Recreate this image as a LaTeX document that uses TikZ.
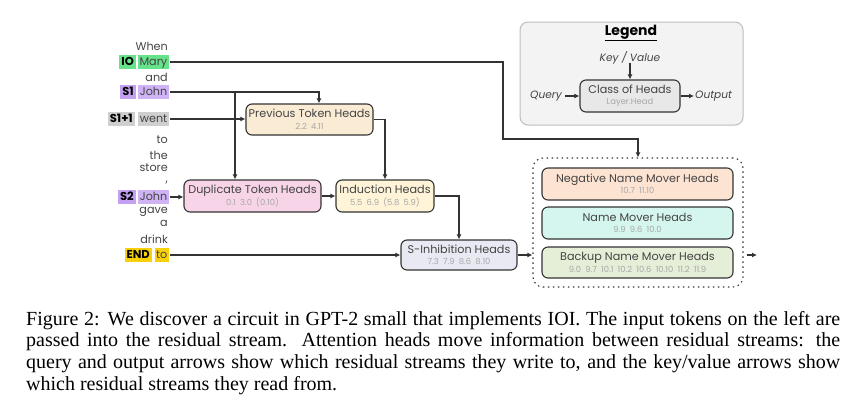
\documentclass[tikz,border=0pt]{standalone}
\usepackage{fontspec}
\setmainfont{Liberation Serif}
\newfontfamily\dfont{Poppins}
\usetikzlibrary{arrows.meta,positioning}
\definecolor{iogreen}{HTML}{66E38A}
\definecolor{sonepurple}{HTML}{C4A0F2}
\definecolor{sgray}{HTML}{CFCFCF}
\definecolor{endyellow}{HTML}{F8D10B}
\definecolor{prevfill}{HTML}{FAEBD5}
\definecolor{dupfill}{HTML}{F7D4E7}
\definecolor{indfill}{HTML}{FFF4D8}
\definecolor{sinhfill}{HTML}{E9E9F3}
\definecolor{negfill}{HTML}{FDE3D2}
\definecolor{nmfill}{HTML}{D5F6EE}
\definecolor{bkfill}{HTML}{E5EFD8}
\definecolor{legfill}{HTML}{F3F3F3}
\definecolor{legborder}{HTML}{BDBDBD}
\definecolor{classfill}{HTML}{E8E8E8}
\definecolor{linec}{HTML}{333333}
\definecolor{numc}{HTML}{A8A8A8}
\definecolor{tokc}{HTML}{444444}
\tikzset{
  tok/.style={font=\dfont\fontsize{11.2}{12}\selectfont, text=tokc, inner sep=0pt, anchor=east},
  wordbox/.style={font=\dfont\fontsize{11.2}{12}\selectfont, text=tokc, inner xsep=1.5pt, inner ysep=1pt, text height=8.7pt, text depth=2.5pt, anchor=east},
  tagbox/.style={font=\dfont\bfseries\fontsize{11.5}{12}\selectfont, text=black, inner xsep=2pt, inner ysep=1pt, text height=8.7pt, text depth=2.5pt, anchor=east},
  headbox/.style={draw=linec, line width=1.1pt, rounded corners=6pt, inner sep=0pt, align=center},
  conn/.style={draw=linec, line width=1.1pt},
  arr/.style={conn, -{Latex[length=5pt,width=5pt]}},
  legtxt/.style={font=\dfont\itshape\fontsize{10.6}{12}\selectfont, text=tokc, inner sep=0pt},
}
\newcommand{\hb}[2]{{\dfont\fontsize{11.2}{12}\selectfont\color{tokc}#1}\\[-0.5pt]{\dfont\fontsize{8.4}{9}\selectfont\color{numc}#2}}
\begin{document}
\begin{tikzpicture}[x=1pt,y=-1pt]
\useasboundingbox (0,0) rectangle (855,407);
% tokens
\node[tok] (when) at (168,46) {When};
\node[wordbox, fill=iogreen] (mary) at (169,62) {Mary};
\node[tagbox, fill=iogreen] (io) at (136,62) {IO};
\node[tok] (and) at (168,77) {and};
\node[wordbox, fill=sonepurple!80] (john1) at (169,92) {John};
\node[tagbox, fill=sonepurple] (s1) at (136,92) {S1};
\node[wordbox, fill=sgray] (went) at (169,119) {went};
\node[tagbox, fill=sgray] (s1p) at (135,119) {S1+1};
\node[tok] (to1) at (168,140) {to};
\node[tok] (the) at (168,155) {the};
\node[tok] (store) at (168,168) {store};
\node[tok] (comma) at (168,183) {,};
\node[wordbox, fill=sonepurple!80] (john2) at (169,197) {John};
\node[tagbox, fill=sonepurple] (s2) at (136,197) {S2};
\node[tok] (gave) at (168,212) {gave};
\node[tok] (a) at (168,223) {a};
\node[tok] (drink) at (168,239) {drink};
\node[wordbox, fill=endyellow] (to2) at (169,255) {to};
\node[tagbox, fill=endyellow] (endt) at (152,255) {END};
% heads
\node[headbox, fill=prevfill, minimum width=127pt, minimum height=31pt] (prev) at (309.5,119.5) {\hb{Previous Token Heads}{2.2\enspace 4.11}};
\node[headbox, fill=dupfill, minimum width=137pt, minimum height=32pt] (dup) at (252.5,196) {\hb{Duplicate Token Heads}{0.1\enspace 3.0\enspace (0.10)}};
\node[headbox, fill=indfill, minimum width=98pt, minimum height=32pt] (ind) at (385,196) {\hb{Induction Heads}{5.5\enspace 6.9\enspace (5.8\enspace 5.9)}};
\node[headbox, fill=sinhfill, minimum width=116pt, minimum height=30pt] (sinh) at (459,255) {\hb{S-Inhibition Heads}{7.3\enspace 7.9\enspace 8.6\enspace 8.10}};
% movers
\node[draw=linec, line width=1.1pt, dash pattern=on 1.5pt off 3.5pt, rounded corners=10pt, minimum width=210pt, minimum height=129pt] (movers) at (638,222.5) {};
\node[headbox, fill=negfill, minimum width=191pt, minimum height=32pt] (neg) at (637.5,184) {\hb{Negative Name Mover Heads}{10.7\enspace 11.10}};
\node[headbox, fill=nmfill, minimum width=191pt, minimum height=32pt] (nm) at (637.5,223) {\hb{Name Mover Heads}{9.9\enspace 9.6\enspace 10.0}};
\node[headbox, fill=bkfill, minimum width=191pt, minimum height=31pt] (bk) at (637.5,262.5) {\hb{Backup Name Mover Heads}{9.0\enspace 9.7\enspace 10.1\enspace 10.2\enspace 10.6\enspace 10.10\enspace 11.2\enspace 11.9}};
% legend
\node[draw=legborder, line width=1pt, fill=legfill, rounded corners=8pt, minimum width=223pt, minimum height=103pt] (legend) at (631.5,73.5) {};
\node[font=\dfont\bfseries\fontsize{14}{16}\selectfont, inner sep=0pt] (legt) at (631,33) {\underline{Legend}};
\node[legtxt] (kv) at (630,58) {Key / Value};
\node[headbox, fill=classfill, minimum width=100pt, minimum height=32pt] (class) at (630,96) {\hb{Class of Heads}{Layer.Head}};
\node[legtxt, anchor=east] (query) at (562,96) {Query};
\node[legtxt, anchor=west] (output) at (695,96) {Output};
\draw[arr] ([yshift=2pt]kv.south) -- (class.north);
\draw[arr] ([xshift=3pt]query.east) -- (class.west);
\draw[arr] (class.east) -- ([xshift=-1pt]output.west);
% connectors
\coordinate (mturn) at (503,139);
\draw[arr] ([xshift=1pt]mary.east) -| (mturn) -| (movers.north);
\draw[arr] ([xshift=1pt]john1.east) -| ([xshift=9.5pt]prev.north);
\coordinate (br) at (235,92);
\draw[arr] (br) -- (dup.north -| br);
\draw[arr] ([xshift=1pt]went.east) -- (went.east -| prev.west);
\draw[arr] (prev.east) -| (ind.north);
\draw[arr] ([xshift=1pt]john2.east) -- (john2.east -| dup.west);
\draw[arr] (dup.east) -- (ind.west);
\draw[arr] (ind.east) -| (sinh.north);
\draw[arr] ([xshift=1pt]to2.east) -- (to2.east -| sinh.west);
\draw[arr] (sinh.east) -- (sinh.east -| movers.west);
\coordinate (outend) at (757,255);
\draw[arr] ([xshift=3pt]movers.east |- outend) -- (outend);
% caption
\node[anchor=north west, inner sep=0pt, text width=814pt, align=justify, font=\fontsize{20}{21.7}\selectfont] (cap) at (26,311) {Figure 2: We discover a circuit in GPT-2 small that implements IOI. The input tokens on the left are\linebreak passed into the residual stream. Attention heads move information between residual streams: the\linebreak query and output arrows show which residual streams they write to, and the key/value arrows show\linebreak which residual streams they read from.};
\end{tikzpicture}
\end{document}
